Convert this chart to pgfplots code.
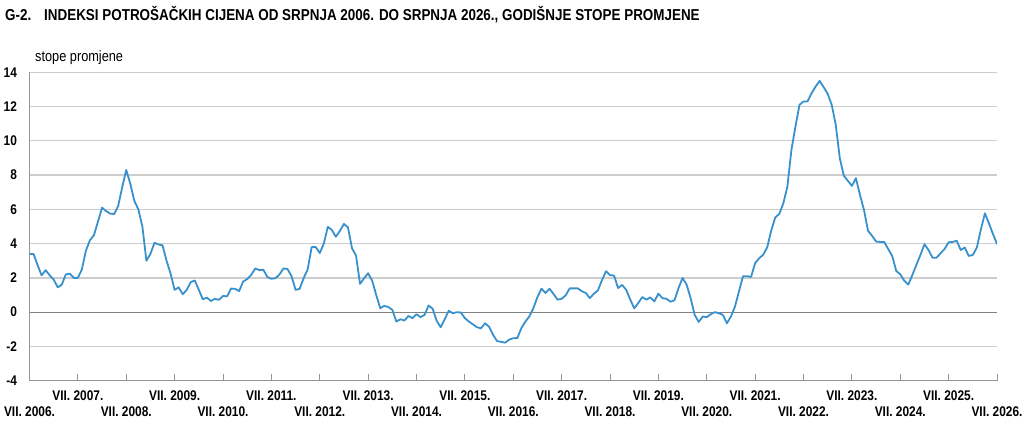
\documentclass[border=0pt]{standalone}
\usepackage{fontspec}
\setmainfont{Liberation Sans}
\newfontfamily\condf[FakeStretch=0.85]{Liberation Sans}
\usepackage{pgfplots}
\pgfplotsset{compat=1.18}
\definecolor{linec}{RGB}{56,144,204}
\definecolor{gridc}{RGB}{205,205,205}
\definecolor{axc}{RGB}{150,150,150}
\definecolor{zeroc}{RGB}{130,130,130}
\begin{document}
\begin{tikzpicture}[x=1pt,y=1pt]
\begin{axis}[
 at={(29.5pt,47.3pt)}, anchor=south west,
 scale only axis, width=967.5pt, height=308.4pt,
 xmin=0, xmax=240, ymin=-4, ymax=14,
 ytick={-4,-2,...,14},
 xtick={12,36,...,228},
 xticklabels={VII. 2007.,VII. 2009.,VII. 2011.,VII. 2013.,VII. 2015.,VII. 2017.,VII. 2019.,VII. 2021.,VII. 2023.,VII. 2025.},
 extra x ticks={0,24,...,240},
 extra x tick labels={VII. 2006.,VII. 2008.,VII. 2010.,VII. 2012.,VII. 2014.,VII. 2016.,VII. 2018.,VII. 2020.,VII. 2022.,VII. 2024.,VII. 2026.},
 extra x tick style={tick label style={yshift=-16pt}},
 axis x line*=bottom, axis y line*=left,
 axis line style={draw=axc, line width=1pt, -},
 ymajorgrids, grid style={draw=gridc, line width=1.3pt},
 tick align=inside, major tick length=7pt,
 xtick style={draw=axc, line width=1pt},
 ytick style={draw=none},
 tick label style={font=\condf\bfseries\fontsize{14}{16}\selectfont, text=black},
 xticklabel style={yshift=-6pt},
 yticklabel style={anchor=east, xshift=-9pt},
 /pgf/number format/assume math mode=true,
]
\addplot[zeroc, line width=1pt, forget plot] coordinates {(0,0) (240,0)};
\addplot[linec, line width=1.8pt, line join=round, no marks] coordinates {
(0,3.4) (1,3.4) (2,2.75) (3,2.15) (4,2.45) (5,2.15) (6,1.9) (7,1.45) (8,1.6) (9,2.2)
(10,2.25) (11,2.0) (12,2.0) (13,2.5) (14,3.6) (15,4.2) (16,4.5) (17,5.3) (18,6.1) (19,5.9)
(20,5.75) (21,5.73) (22,6.2) (23,7.3) (24,8.3) (25,7.5) (26,6.5) (27,6.0) (28,5.0) (29,3.0)
(30,3.4) (31,4.05) (32,3.95) (33,3.9) (34,3.0) (35,2.25) (36,1.3) (37,1.45) (38,1.05) (39,1.3)
(40,1.75) (41,1.85) (42,1.3) (43,0.75) (44,0.85) (45,0.65) (46,0.78) (47,0.72) (48,0.95) (49,0.92)
(50,1.38) (51,1.36) (52,1.23) (53,1.79) (54,1.93) (55,2.18) (56,2.55) (57,2.45) (58,2.48) (59,2.05)
(60,1.95) (61,1.98) (62,2.2) (63,2.55) (64,2.52) (65,2.1) (66,1.3) (67,1.36) (68,1.98) (69,2.5)
(70,3.8) (71,3.8) (72,3.45) (73,4.0) (74,4.98) (75,4.8) (76,4.4) (77,4.75) (78,5.15) (79,4.95)
(80,3.73) (81,3.3) (82,1.65) (83,1.98) (84,2.27) (85,1.84) (86,1.01) (87,0.23) (88,0.37) (89,0.3)
(90,0.14) (91,-0.55) (92,-0.41) (93,-0.49) (94,-0.22) (95,-0.35) (96,-0.12) (97,-0.29) (98,-0.16) (99,0.39)
(100,0.2) (101,-0.5) (102,-0.88) (103,-0.41) (104,0.08) (105,-0.06) (106,0.0) (107,-0.02) (108,-0.35) (109,-0.55)
(110,-0.71) (111,-0.88) (112,-0.94) (113,-0.65) (114,-0.85) (115,-1.33) (116,-1.69) (117,-1.73) (118,-1.78) (119,-1.6)
(120,-1.52) (121,-1.51) (122,-0.94) (123,-0.55) (124,-0.25) (125,0.24) (126,0.88) (127,1.37) (128,1.12) (129,1.37)
(130,1.06) (131,0.73) (132,0.78) (133,0.98) (134,1.39) (135,1.39) (136,1.39) (137,1.22) (138,1.12) (139,0.82)
(140,1.08) (141,1.27) (142,1.86) (143,2.39) (144,2.16) (145,2.14) (146,1.41) (147,1.59) (148,1.31) (149,0.75)
(150,0.22) (151,0.53) (152,0.88) (153,0.73) (154,0.86) (155,0.63) (156,1.08) (157,0.82) (158,0.78) (159,0.61)
(160,0.69) (161,1.41) (162,2.0) (163,1.61) (164,0.82) (165,-0.16) (166,-0.57) (167,-0.25) (168,-0.29) (169,-0.12)
(170,0.0) (171,-0.06) (172,-0.16) (173,-0.65) (174,-0.25) (175,0.33) (176,1.22) (177,2.1) (178,2.1) (179,2.06)
(180,2.86) (181,3.15) (182,3.35) (183,3.79) (184,4.77) (185,5.53) (186,5.74) (187,6.36) (188,7.33) (189,9.47)
(190,10.84) (191,12.1) (192,12.3) (193,12.3) (194,12.78) (195,13.17) (196,13.5) (197,13.13) (198,12.74) (199,12.1)
(200,10.93) (201,8.99) (202,7.96) (203,7.67) (204,7.37) (205,7.82) (206,6.85) (207,5.97) (208,4.75) (209,4.46)
(210,4.12) (211,4.1) (212,4.1) (213,3.69) (214,3.28) (215,2.41) (216,2.21) (217,1.83) (218,1.61) (219,2.17)
(220,2.76) (221,3.34) (222,3.96) (223,3.63) (224,3.18) (225,3.18) (226,3.44) (227,3.69) (228,4.08) (229,4.1)
(230,4.17) (231,3.63) (232,3.77) (233,3.28) (234,3.34) (235,3.77) (236,4.83) (237,5.77) (238,5.18) (239,4.56)
(240,3.98)
};
\end{axis}
\node[anchor=base west, inner sep=0pt, font=\condf\bfseries\fontsize{15.8}{18}\selectfont] at (5pt,407pt) {G-2.};
\node[anchor=base west, inner sep=0pt, font=\condf\bfseries\fontsize{15.8}{18}\selectfont] at (44pt,407pt) {INDEKSI POTROŠAČKIH CIJENA OD SRPNJA 2006. DO SRPNJA 2026., GODIŠNJE STOPE PROMJENE};
\node[anchor=base west, inner sep=0pt, font=\condf\fontsize{15}{17}\selectfont] at (35pt,366pt) {stope promjene};
\pgfresetboundingbox
\path[use as bounding box] (0pt,0pt) rectangle (1024pt,428pt);
\end{tikzpicture}
\end{document}
